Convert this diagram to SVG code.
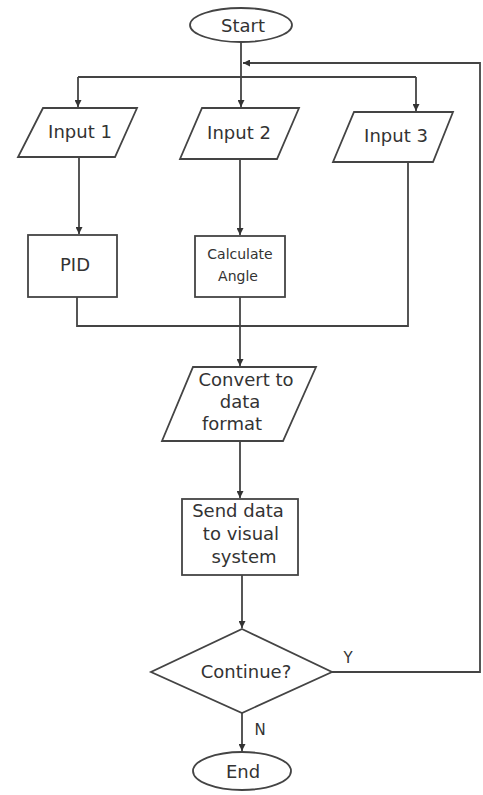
<svg xmlns="http://www.w3.org/2000/svg" width="483" height="795" viewBox="0 0 483 795">
<defs>
<marker id="arr" viewBox="0 0 10 10" refX="10" refY="5" markerWidth="7" markerHeight="7" markerUnits="userSpaceOnUse" orient="auto">
<path d="M0,0 L10,5 L0,10 Z" fill="#333"/>
</marker>
<style>
.shape{fill:#fff;stroke:#444;stroke-width:1.8}
.conn{fill:none;stroke:#444;stroke-width:1.8}
.t{font-family:"DejaVu Sans","Open Sans",sans-serif;font-size:18px;fill:#333;text-anchor:middle}
.s{font-size:14px}
.l{font-size:15px}
</style>
</defs>
<rect width="483" height="795" fill="#fff"/>
<g id="connectors">
<path class="conn" d="M241,42 V107" marker-end="url(#arr)"/>
<path class="conn" d="M78,77 H416"/>
<path class="conn" d="M78,77 V107" marker-end="url(#arr)"/>
<path class="conn" d="M416,77 V111" marker-end="url(#arr)"/>
<path class="conn" d="M79,157 V234" marker-end="url(#arr)"/>
<path class="conn" d="M240,159 V235" marker-end="url(#arr)"/>
<path class="conn" d="M408,162 V326 H77 V297"/>
<path class="conn" d="M240,297 V366" marker-end="url(#arr)"/>
<path class="conn" d="M240,441 V498" marker-end="url(#arr)"/>
<path class="conn" d="M242,575 V628" marker-end="url(#arr)"/>
<path class="conn" d="M242,713 V751" marker-end="url(#arr)"/>
<path class="conn" d="M332,672 H480 V63 H243" marker-end="url(#arr)"/>
<text class="t l" x="348" y="663">Y</text>
<text class="t l" x="260" y="735">N</text>
</g>
<g id="start">
<ellipse class="shape" cx="241" cy="25" rx="51" ry="17"/>
<text class="t" x="243" y="32">Start</text>
</g>
<g id="input1">
<polygon class="shape" points="43,108 137,108 115,157 18,157"/>
<text class="t" x="80" y="138">Input 1</text>
</g>
<g id="input2">
<polygon class="shape" points="202,108 299,108 277,159 180,159"/>
<text class="t" x="239" y="139">Input 2</text>
</g>
<g id="input3">
<polygon class="shape" points="354,112 453,112 433,162 333,162"/>
<text class="t" x="396" y="142">Input 3</text>
</g>
<g id="pid">
<rect class="shape" x="28" y="235" width="89" height="62"/>
<text class="t" x="75" y="271">PID</text>
</g>
<g id="calc">
<rect class="shape" x="195" y="236" width="90" height="61"/>
<text class="t s" x="240" y="259">Calculate</text>
<text class="t s" x="238" y="281">Angle</text>
</g>
<g id="convert">
<polygon class="shape" points="193,367 316,367 283,441 162,441"/>
<text class="t" x="246" y="386">Convert to</text>
<text class="t" x="240" y="408">data</text>
<text class="t" x="232" y="430">format</text>
</g>
<g id="send">
<rect class="shape" x="182" y="499" width="116" height="76"/>
<text class="t" x="238" y="517">Send data</text>
<text class="t" x="241" y="540">to visual</text>
<text class="t" x="244" y="563">system</text>
</g>
<g id="decision">
<polygon class="shape" points="242,629 332,672 242,713 151,672"/>
<text class="t" x="246" y="678">Continue?</text>
</g>
<g id="end">
<ellipse class="shape" cx="242" cy="771" rx="49" ry="19"/>
<text class="t" x="243" y="778">End</text>
</g>
</svg>
